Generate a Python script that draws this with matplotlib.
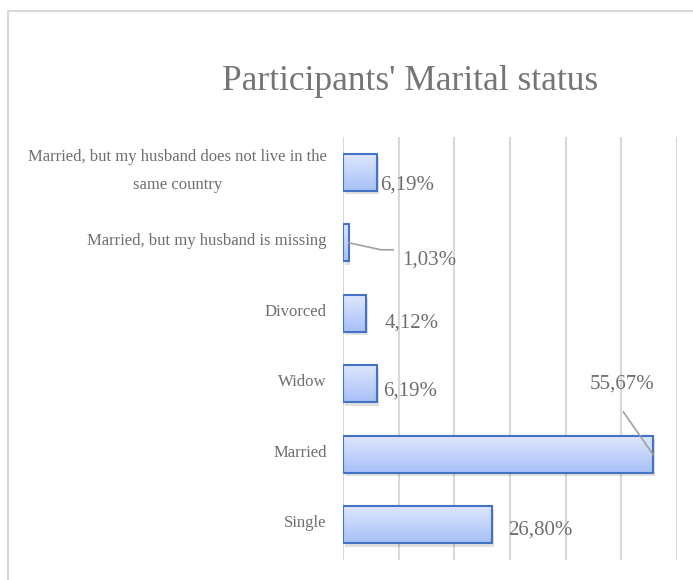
import matplotlib.pyplot as plt
import matplotlib.patches as mpatches
import numpy as np

categories = ['Married, but my husband does not live in the\nsame country',
              'Married, but my husband is missing',
              'Divorced', 'Widow', 'Married', 'Single']
values = [6.19, 1.03, 4.12, 6.19, 55.67, 26.80]
labels = ['6,19%', '1,03%', '4,12%', '6,19%', '55,67%', '26,80%']

fig = plt.figure(figsize=(6.93, 5.8), dpi=100)
ax = fig.add_axes([343 / 693, 20 / 580, 334 / 693, 423 / 580])

# chart border (cut off on the right/bottom like the screenshot)
fig.patches.append(mpatches.Rectangle((8 / 693, -0.1), 1.2, 1 - 11 / 580 + 0.1,
                                      transform=fig.transFigure, fill=False,
                                      edgecolor='#d9d9d9', linewidth=1.5))

pos = np.arange(len(categories))
bars = ax.barh(pos, values, height=0.52, color='none', edgecolor='#4472c4',
               linewidth=1.5, zorder=3)

grad = np.linspace(0, 1, 64).reshape(-1, 1)
cmap = plt.matplotlib.colors.LinearSegmentedColormap.from_list('g', ['#dde6fc', '#a8c0f8'])
for b in bars:
    x0, y0, w, h = b.get_x(), b.get_y(), b.get_width(), b.get_height()
    # soft shadow
    ax.add_patch(mpatches.Rectangle((x0 + 0.3, y0 + 0.05), w, h, color='#000000',
                                    alpha=0.12, zorder=2, linewidth=0))
    im = ax.imshow(grad, extent=[x0, x0 + w, y0 + h, y0], aspect='auto',
                   cmap=cmap, zorder=2.5)
    im.set_clip_path(b)

ax.set_xlim(0, 60)
ax.set_ylim(len(categories) - 0.5, -0.5)
ax.set_xticks(np.arange(0, 61, 10))
ax.set_xticklabels([])
ax.set_yticks(pos)
ax.set_yticklabels([])
ax.tick_params(length=0)
ax.grid(axis='x', color='#d9d9d9', linewidth=1.5, zorder=0)
for s in ax.spines.values():
    s.set_visible(False)

font = 'Liberation Serif'
gray = '#6e6e6e'
for i, c in enumerate(categories):
    ax.text(-2.9, i - 0.02, c, ha='right', va='center', multialignment='center',
            fontsize=12, color=gray, family=font, linespacing=2.0)

# data label positions (x in %, y in category units), as placed in the original
label_x = [6.6, 10.6, 7.5, 7.2, 56.0, 29.6]
label_y = [0.18, 1.24, 2.14, 3.1, 3.0, 5.07]
for i, lab in enumerate(labels):
    ax.text(label_x[i], label_y[i], lab, ha='left' if i != 4 else 'right', va='center',
            fontsize=15, color=gray, family=font)

# leader lines
ax.plot([values[1], values[1] + 5.8, values[1] + 8.0], [1, 1.1, 1.1], color='#a0a0a0', lw=1.2, zorder=4)
ax.plot([values[4], values[4] - 5.3], [4, 3.4], color='#a0a0a0', lw=1.2, zorder=4)

fig.text(410 / 693, 1 - 82 / 580, "Participants' Marital status", ha='center', va='center',
         fontsize=25.5, color='#757575', family=font)

fig.savefig('out.png', dpi=100)
